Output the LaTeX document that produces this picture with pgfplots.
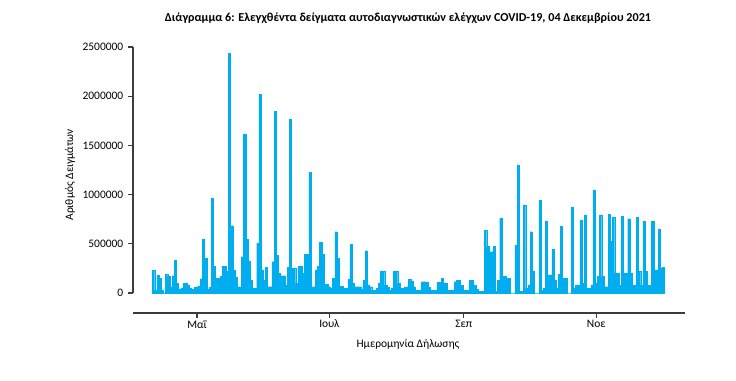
\documentclass[border=0pt]{standalone}
\usepackage{pgfplots}
\pgfplotsset{compat=1.18}
\usepackage{fontspec}
\setmainfont{Carlito}
\definecolor{barc}{RGB}{0,174,239}
\definecolor{axc}{RGB}{60,60,60}
\begin{document}
\begin{tikzpicture}[x=0.75pt,y=0.75pt]
\useasboundingbox (-133,-68) rectangle (603,313);
\begin{axis}[
  at={(0,0)}, anchor=south west,
  scale only axis, width=414pt, height=199.5pt,
  xmin=0.5, xmax=254.9, ymin=-203252, ymax=2500000,
  axis lines*=left,
  axis line style={draw=none},
  scaled y ticks=false,
  tick align=outside, major tick length=3.75pt,
  tick style={draw=none},
  xtick={30,91,153,214}, xticklabels={Μαΐ,Ιουλ,Σεπ,Νοε},
  ytick={0,500000,1000000,1500000,2000000,2500000},
  yticklabels={0,500000,1000000,1500000,2000000,2500000},
  ticklabel style={font=\fontsize{8.6}{10}\selectfont},
  xticklabel style={yshift=2pt},
  clip=false,
]
\addplot[ybar, bar width=1, bar shift=0pt, fill=barc, draw=barc, line width=0.25pt] coordinates {
(10,228000) (11,30000) (12,183000) (13,150000) (14,30000) (15,0) (16,190000) (17,170000) (18,64000) (19,176000)
(20,335000) (21,98000) (22,37000) (23,45000) (24,98000) (25,95000) (26,75000) (27,47000) (28,40000) (29,55000)
(30,64000) (31,70000) (32,145000) (33,549000) (34,349000) (35,37000) (36,60000) (37,966000) (38,274000) (39,146000)
(40,150000) (41,166000) (42,274000) (43,274000) (44,217000) (45,2436000) (46,684000) (47,227000) (48,156000) (49,64000)
(50,64000) (51,369000) (52,1616000) (53,549000) (54,325000) (55,132000) (56,47000) (57,47000) (58,505000) (59,2019000)
(60,234000) (61,132000) (62,261000) (63,64000) (64,64000) (65,318000) (66,1843000) (67,386000) (68,200000) (69,176000)
(70,176000) (71,81000) (72,261000) (73,1769000) (74,250000) (75,250000) (76,98000) (77,268000) (78,268000) (79,200000)
(80,396000) (81,396000) (82,1223000) (83,64000) (84,64000) (85,234000) (86,268000) (87,515000) (88,393000) (89,88000)
(90,88000) (91,64000) (92,47000) (93,149000) (94,623000) (95,352000) (96,71000) (97,71000) (98,47000) (99,47000)
(100,142000) (101,495000) (102,98000) (103,64000) (104,64000) (105,64000) (106,37000) (107,132000) (108,430000) (109,81000)
(110,64000) (111,30000) (112,30000) (113,47000) (114,100000) (115,224000) (116,224000) (117,81000) (118,60000) (119,30000)
(120,47000) (121,217000) (122,217000) (123,98000) (124,47000) (125,47000) (126,60000) (127,64000) (128,142000) (129,120000)
(130,64000) (131,30000) (132,30000) (133,30000) (134,115000) (135,115000) (136,105000) (137,60000) (138,30000) (139,30000)
(140,30000) (141,108000) (142,108000) (143,149000) (144,98000) (145,98000) (146,30000) (147,30000) (148,30000) (149,115000)
(150,132000) (151,132000) (152,81000) (153,30000) (154,30000) (155,30000) (156,132000) (157,132000) (158,81000) (159,40000)
(160,14000) (161,14000) (162,14000) (163,640000) (164,471000) (165,420000) (166,420000) (167,471000) (168,14000) (169,132000)
(170,759000) (171,173000) (172,173000) (173,149000) (174,149000) (175,0) (176,0) (177,488000) (178,1301000) (179,14000)
(180,14000) (181,894000) (182,47000) (183,81000) (184,623000) (185,224000) (186,0) (187,0) (188,945000) (189,30000)
(190,47000) (191,725000) (192,183000) (193,183000) (194,447000) (195,132000) (196,47000) (197,190000) (198,681000) (199,149000)
(200,149000) (201,0) (202,0) (203,874000) (204,47000) (205,81000) (206,81000) (207,742000) (208,100000) (209,793000)
(210,47000) (211,47000) (212,81000) (213,1047000) (214,98000) (215,166000) (216,793000) (217,166000) (218,64000) (219,64000)
(220,800000) (221,522000) (222,766000) (223,200000) (224,200000) (225,81000) (226,779000) (227,200000) (228,200000) (229,755000)
(230,200000) (231,81000) (232,81000) (233,766000) (234,217000) (235,81000) (236,728000) (237,217000) (238,81000) (239,81000)
(240,728000) (241,234000) (242,234000) (243,650000) (244,251000) (245,260000)
};
\draw[axc, line width=1pt] (axis cs:0.5,0) -- (axis cs:0.5,2500000);
\draw[axc, line width=1pt] (axis cs:0.5,-203252) -- (axis cs:254.9,-203252);
\draw[axc, line width=0.8pt] (axis cs:0.5,0) -- (axis cs:-1.8,0);
\draw[axc, line width=0.8pt] (axis cs:0.5,500000) -- (axis cs:-1.8,500000);
\draw[axc, line width=0.8pt] (axis cs:0.5,1000000) -- (axis cs:-1.8,1000000);
\draw[axc, line width=0.8pt] (axis cs:0.5,1500000) -- (axis cs:-1.8,1500000);
\draw[axc, line width=0.8pt] (axis cs:0.5,2000000) -- (axis cs:-1.8,2000000);
\draw[axc, line width=0.8pt] (axis cs:0.5,2500000) -- (axis cs:-1.8,2500000);
\draw[axc, line width=0.8pt] (axis cs:30,-203252) -- (axis cs:30,-254000);
\draw[axc, line width=0.8pt] (axis cs:91,-203252) -- (axis cs:91,-254000);
\draw[axc, line width=0.8pt] (axis cs:153,-203252) -- (axis cs:153,-254000);
\draw[axc, line width=0.8pt] (axis cs:214,-203252) -- (axis cs:214,-254000);
\end{axis}
\node[font=\bfseries\fontsize{9.1}{10}\selectfont] at (275,295) {Διάγραμμα 6: Ελεγχθέντα δείγματα αυτοδιαγνωστικών ελέγχων COVID-19, 04 Δεκεμβρίου 2021};
\node[font=\fontsize{8.6}{10}\selectfont, rotate=90] at (-63,138) {Αριθμός Δειγμάτων};
\node[font=\fontsize{8.6}{10}\selectfont] at (275,-31) {Ημερομηνία Δήλωσης};
\end{tikzpicture}
\end{document}
